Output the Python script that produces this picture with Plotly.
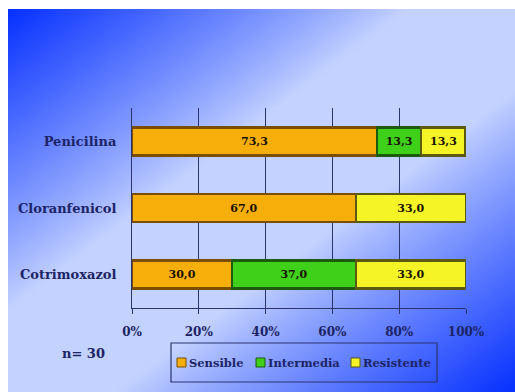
import base64, struct, zlib
import numpy as np
import plotly.graph_objects as go

categories = ["Cotrimoxazol", "Cloranfenicol", "Penicilina"]
series_names = ["Sensible", "Intermedia", "Resistente"]
sensible = [30.0, 67.0, 73.3]
intermedia = [37.0, 0.0, 13.3]
resistente = [33.0, 33.0, 13.3]
tick_vals = [0, 20, 40, 60, 80, 100]
tick_text = ["0%", "20%", "40%", "60%", "80%", "100%"]

W, H = 515, 392
L, R, T, B = 132, 49, 108, 84
PW, PH = W - L - R, H - T - B

def px(xp):  # pixel x -> paper x
    return (xp - L) / PW

def py(yp):  # pixel y -> paper y
    return (T + PH - yp) / PH

# background gradient image
gw, gh = 128, 96
xs = np.linspace(0, 1, gw)[None, :]
ys = np.linspace(0, 1, gh)[:, None]
t = (xs + ys) / 2
d = np.abs(t - 0.5) * 2
f = np.clip((d - 0.22) / 0.78, 0, 1) ** 0.9
blue = np.array([8, 50, 255], float)
light = np.array([195, 210, 255], float)
img = light[None, None, :] * (1 - f[..., None]) + blue[None, None, :] * f[..., None]
img = img.astype(np.uint8)

def png_bytes(a):
    h, w, _ = a.shape
    raw = b"".join(b"\x00" + a[i].tobytes() for i in range(h))
    def chunk(tag, data):
        c = struct.pack(">I", len(data)) + tag + data
        return c + struct.pack(">I", zlib.crc32(tag + data) & 0xffffffff)
    return (b"\x89PNG\r\n\x1a\n" + chunk(b"IHDR", struct.pack(">IIBBBBB", w, h, 8, 2, 0, 0, 0))
            + chunk(b"IDAT", zlib.compress(raw, 9)) + chunk(b"IEND", b""))

uri = "data:image/png;base64," + base64.b64encode(png_bytes(img)).decode()

font_serif = "DejaVu Serif"
navy = "#1c2466"
line_col = "#2a3570"

def fmt(v):
    return "" if v == 0 else f"{v:.1f}".replace(".", ",")

fills = ["#f6ae0a", "#3fd11a", "#f4f426"]
edges = ["#7a4e00", "#1d5a10", "#5c5a10"]

fig = go.Figure()
for name, vals, col, edge in zip(series_names, [sensible, intermedia, resistente], fills, edges):
    fig.add_trace(go.Bar(
        name=name, y=categories, x=vals, orientation="h",
        marker=dict(color=col, line=dict(color=edge, width=2.5)),
        text=[fmt(v) for v in vals], textposition="inside",
        insidetextanchor="middle",
        textfont=dict(family=font_serif, size=11, color="#1a1200", weight="bold"),
        width=0.42, showlegend=False,
    ))

# custom legend
shapes = [dict(type="rect", xref="paper", yref="paper",
               x0=px(171), x1=px(437), y0=py(382), y1=py(343),
               line=dict(color=line_col, width=1.2), fillcolor="rgba(0,0,0,0)")]
annotations = []
item_x = [177, 256, 351]
for i, name in enumerate(series_names):
    sx = item_x[i]
    shapes.append(dict(type="rect", xref="paper", yref="paper",
                       x0=px(sx), x1=px(sx + 9), y0=py(367), y1=py(358),
                       line=dict(color=edges[i], width=1), fillcolor=fills[i]))
    annotations.append(dict(text=name, xref="paper", yref="paper",
                            x=px(sx + 10), y=py(362.5), showarrow=False,
                            xanchor="left", yanchor="middle",
                            font=dict(family=font_serif, size=11.5, color=navy, weight="bold")))
annotations.append(dict(text="n= 30", xref="paper", yref="paper",
                        x=px(83), y=py(353), showarrow=False,
                        xanchor="center", yanchor="middle",
                        font=dict(family=font_serif, size=13, color=navy, weight="bold")))

fig.update_layout(
    width=W, height=H, barmode="stack",
    margin=dict(l=L, r=R, t=T, b=B),
    paper_bgcolor="white", plot_bgcolor="rgba(0,0,0,0)",
    showlegend=False,
    xaxis=dict(range=[0, 100], tickvals=tick_vals, ticktext=tick_text,
               showgrid=True, gridcolor=line_col, gridwidth=1,
               ticks="outside", ticklen=5, tickcolor=line_col,
               showline=True, linecolor=line_col, linewidth=1,
               zeroline=False, ticklabelstandoff=8,
               tickfont=dict(family=font_serif, size=12, color=navy, weight="bold")),
    yaxis=dict(showgrid=False, zeroline=False, ticks="", ticklabelstandoff=12,
               showline=True, linecolor=line_col, linewidth=1,
               tickfont=dict(family=font_serif, size=13, color=navy, weight="bold")),
    images=[dict(source=uri, xref="paper", yref="paper",
                 x=px(8), y=py(9), sizex=(W - 8) / PW, sizey=(H - 9) / PH,
                 xanchor="left", yanchor="top", sizing="stretch", layer="below")],
    shapes=shapes,
    annotations=annotations,
)

fig.write_html("out.html")
